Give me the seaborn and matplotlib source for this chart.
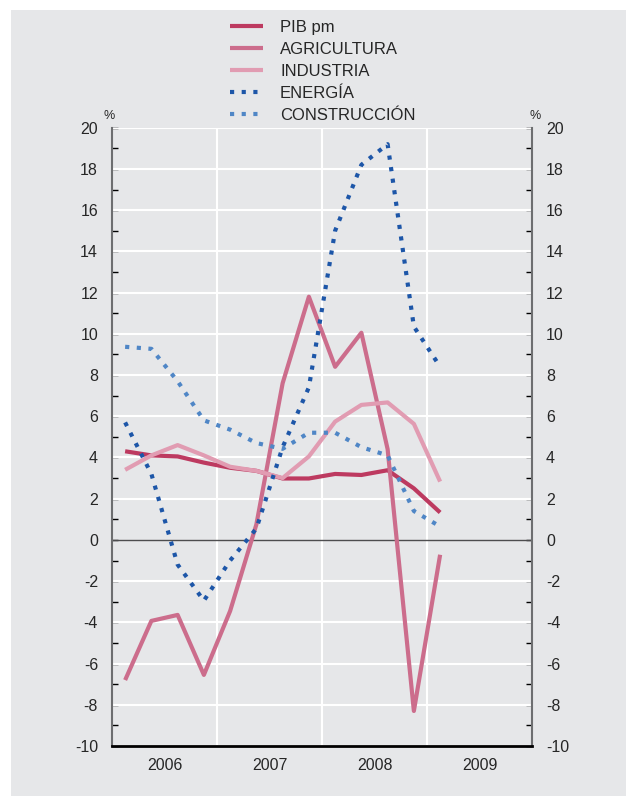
import numpy as np
import pandas as pd
import matplotlib
matplotlib.use('Agg')
import matplotlib.pyplot as plt
import seaborn as sns
from matplotlib.patches import Rectangle
from matplotlib.ticker import MultipleLocator, FixedLocator

# Quarterly data, 2006Q1 .. 2009Q1 (% yoy)
quarters = ['2006Q1', '2006Q2', '2006Q3', '2006Q4',
            '2007Q1', '2007Q2', '2007Q3', '2007Q4',
            '2008Q1', '2008Q2', '2008Q3', '2008Q4', '2009Q1']
pib = [4.3, 4.1, 4.05, 3.75, 3.5, 3.35, 2.98, 2.98, 3.2, 3.15, 3.38, 2.5, 1.33]
agricultura = [-6.8, -3.93, -3.64, -6.55, -3.45, 0.75, 7.6, 11.8, 8.4, 10.05, 4.4, -8.3, -0.72]
industria = [3.4, 4.1, 4.6, 4.1, 3.55, 3.35, 3.0, 4.05, 5.74, 6.55, 6.67, 5.63, 2.83]
energia = [5.7, 3.2, -1.2, -2.95, -1.0, 0.55, 4.5, 7.4, 15.0, 18.2, 19.2, 10.35, 8.4]
construccion = [9.37, 9.27, 7.7, 5.8, 5.35, 4.7, 4.42, 5.2, 5.2, 4.5, 4.1, 1.4, 0.65]

series_names = ['PIB pm', 'AGRICULTURA', 'INDUSTRIA', 'ENERGÍA', 'CONSTRUCCIÓN']
year_labels = ['2006', '2007', '2008', '2009']

colors = ['#bd3a60', '#cc6d8c', '#e19cb2', '#1d56a8', '#4f86c6']
styles = ['-', '-', '-', (0, (1, 1.8)), (0, (1, 1.8))]

df = pd.DataFrame({
    'quarter': quarters,
    'PIB pm': pib,
    'AGRICULTURA': agricultura,
    'INDUSTRIA': industria,
    'ENERGÍA': energia,
    'CONSTRUCCIÓN': construccion,
})
df['x'] = np.arange(len(df)) + 0.5
long_df = df.melt(id_vars=['quarter', 'x'], value_vars=series_names,
                  var_name='serie', value_name='valor')

sns.set_style('white')
plt.rcParams['font.family'] = ['Liberation Sans', 'DejaVu Sans']
plt.rcParams['axes.unicode_minus'] = False

bg = '#e6e7e9'
fig = plt.figure(figsize=(6.26, 7.96), dpi=100)
fig.patch.set_facecolor('white')
fig.add_artist(Rectangle((11 / 626, 0), 1 - 11 / 626, 1 - 10 / 796,
                         transform=fig.transFigure, facecolor=bg,
                         edgecolor='none', zorder=-10))

ax = fig.add_axes([112 / 626, 1 - 746 / 796, 420 / 626, (746 - 127.7) / 796])
ax.set_facecolor(bg)

for name, c, ls in zip(series_names, colors, styles):
    sub = long_df[long_df['serie'] == name]
    sns.lineplot(data=sub, x='x', y='valor', ax=ax, color=c, linewidth=3,
                 label=name, legend=False, zorder=3)
    line = ax.lines[-1]
    line.set_linestyle(ls)
    line.set_dash_capstyle('butt')
    line.set_solid_capstyle('butt')

ax.set_xlim(0, 16)
ax.set_ylim(-10, 20)

# grid
for yv in range(-10, 21, 2):
    if yv != 0:
        ax.axhline(yv, color='white', linewidth=1.5, zorder=1)
for xv in [4, 8, 12]:
    ax.axvline(xv, color='white', linewidth=1.5, zorder=1)
ax.axhline(0, color='#4d4d4f', linewidth=1.0, zorder=2)

# spines
ax.spines['top'].set_visible(False)
for s in ['left', 'right']:
    ax.spines[s].set_color('#6d6e70')
    ax.spines[s].set_linewidth(1.5)
ax.spines['bottom'].set_color('black')
ax.spines['bottom'].set_linewidth(2)

# y ticks on both sides
ax.yaxis.set_major_locator(MultipleLocator(2))
ax.yaxis.set_minor_locator(MultipleLocator(1))
ax.tick_params(axis='y', which='both', direction='in', length=4, width=1,
               color='black', left=True, right=True, labelleft=True,
               labelright=True, labelsize=11.5, pad=10)

# x ticks: years at boundaries, quarters minor, labels centered
ax.xaxis.set_major_locator(FixedLocator([0, 4, 8, 12, 16]))
ax.xaxis.set_minor_locator(FixedLocator([q for q in range(16) if q % 4 != 0]))
ax.set_xticklabels([])
ax.tick_params(axis='x', which='major', direction='in', length=7, width=1.5, color='black')
ax.tick_params(axis='x', which='minor', direction='in', length=4, width=1, color='black')
for i, yl in enumerate(year_labels):
    ax.text(i * 4 + 2, -10.6, yl, ha='center', va='top', fontsize=11.5)

ax.set_xlabel('')
ax.set_ylabel('')

ax.text(-0.1, 20.3, '%', ha='center', va='bottom', fontsize=9)
ax.text(16.1, 20.3, '%', ha='center', va='bottom', fontsize=9)

handles = ax.lines[:5]
leg = fig.legend(handles, series_names, loc='upper left',
                 bbox_to_anchor=(215 / 626, 1 - 5 / 796), frameon=False,
                 fontsize=12, handlelength=2.0, handletextpad=1.0,
                 labelspacing=0.42)

fig.savefig('out.png', dpi=100, facecolor=fig.get_facecolor())
